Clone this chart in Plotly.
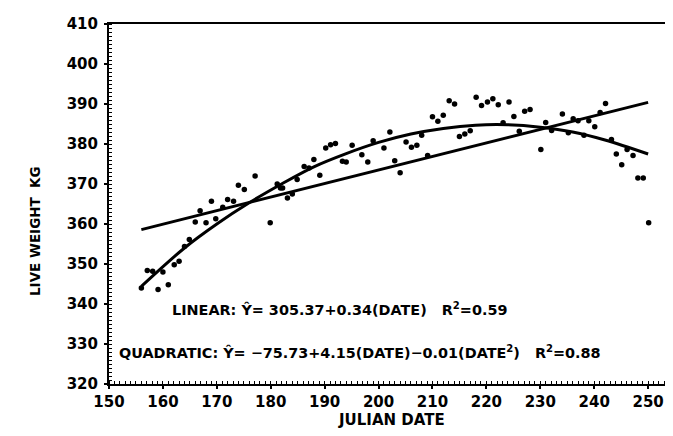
import plotly.graph_objects as go

date = [156.0, 159.1, 161.0, 157.1, 158.1, 160.0, 162.1, 163.0, 164.0, 164.9,
        166.0, 166.9, 168.0, 169.0, 169.8, 171.1, 172.0, 173.1, 174.0, 175.1,
        177.1, 179.9, 181.2, 181.8, 182.2, 183.1, 184.0, 184.9, 186.2, 187.1,
        188.0, 189.1, 190.2, 191.1, 192.0, 193.3, 194.0, 195.1, 196.9, 198.0,
        199.0, 201.0, 202.1, 203.0, 204.0, 205.1, 206.1, 207.1, 208.0, 209.1,
        210.0, 211.0, 212.0, 213.1, 214.1, 215.0, 216.0, 217.0, 218.1, 219.1,
        220.2, 221.2, 222.2, 223.1, 224.2, 225.1, 226.1, 227.1, 228.1, 230.1,
        231.0, 232.1, 234.1, 235.2, 236.1, 237.0, 238.1, 239.0, 240.1, 241.1,
        242.1, 243.2, 244.1, 245.1, 246.1, 247.2, 248.1, 249.1, 250.1]
weight = [344.0, 343.6, 344.8, 348.4, 348.2, 348.0, 349.8, 350.7, 354.4, 356.1,
          360.5, 363.3, 360.3, 365.7, 361.3, 364.2, 366.1, 365.7, 369.7, 368.6,
          372.0, 360.3, 370.0, 369.0, 369.0, 366.5, 367.5, 371.1, 374.4, 374.0,
          376.1, 372.2, 379.0, 379.8, 380.1, 375.7, 375.5, 379.7, 377.3, 375.5,
          380.8, 379.0, 383.0, 375.8, 372.8, 380.5, 379.2, 379.7, 382.2, 377.1,
          386.8, 385.7, 387.2, 390.8, 390.0, 381.9, 382.5, 383.3, 391.7, 389.6,
          390.5, 391.3, 389.8, 385.3, 390.5, 386.9, 383.2, 388.2, 388.6, 378.6,
          385.4, 383.4, 387.5, 382.8, 386.3, 385.8, 382.2, 385.8, 384.3, 387.9,
          390.1, 381.1, 377.5, 374.8, 378.6, 377.1, 371.5, 371.5, 360.3]

# Linear regression line, end values
lin_x = [156, 250]
lin_y = [358.6, 390.4]

# Quadratic regression curve
quad_x = [156, 164, 170, 176, 182, 188, 194, 200, 206, 212, 218, 224, 230, 236, 242, 250]
quad_y = [344.4, 354.0, 360.0, 365.3, 370.0, 374.3, 377.6, 380.4, 382.5, 383.9,
          384.7, 384.8, 384.2, 383.0, 381.0, 377.5]

x_ticks = [150, 160, 170, 180, 190, 200, 210, 220, 230, 240, 250]
y_ticks = [320, 330, 340, 350, 360, 370, 380, 390, 400, 410]

FONT = "DejaVu Sans"

fig = go.Figure()
fig.add_trace(go.Scatter(x=date, y=weight, mode="markers",
                         marker=dict(color="black", size=5.5), showlegend=False))
fig.add_trace(go.Scatter(x=lin_x, y=lin_y, mode="lines",
                         line=dict(color="black", width=3), showlegend=False))
fig.add_trace(go.Scatter(x=quad_x, y=quad_y, mode="lines", line_shape="spline",
                         line=dict(color="black", width=3), showlegend=False))

axis_common = dict(showgrid=False, zeroline=False, showline=True, linecolor="black",
                   linewidth=2, mirror=True, ticks="outside", ticklen=3, tickwidth=2,
                   tickcolor="black",
                   tickfont=dict(family=FONT, size=15, color="black", weight="bold"))

fig.update_xaxes(range=[150, 254.8], tickvals=x_ticks, **axis_common,
                 minor=dict(ticks="inside", ticklen=3, tickwidth=1, dtick=1,
                            tickcolor="black"))
fig.update_yaxes(range=[320, 410], tickvals=y_ticks, ticklabelstandoff=3, **axis_common,
                 minor=dict(ticks="inside", ticklen=3, tickwidth=1, dtick=1,
                            tickcolor="black"))

fig.add_annotation(x=0, y=0.5, xref="paper", yref="paper", xanchor="center",
                   yanchor="middle", textangle=-90, showarrow=False,
                   text="LIVE WEIGHT  KG", xshift=-74, yshift=-27,
                   font=dict(family=FONT, size=13.5, color="black", weight="bold"))
fig.add_annotation(x=0.5, y=0, xref="paper", yref="paper", yanchor="middle",
                   showarrow=False, text="JULIAN DATE", yshift=-36,
                   font=dict(family=FONT, size=15, color="black", weight="bold"))

fig.add_annotation(x=161.3, y=338.8, xref="x", yref="y", xanchor="left", showarrow=False,
                   text="LINEAR: Ŷ= 305.37+0.34(DATE)   R<sup>2</sup>=0.59",
                   font=dict(family=FONT, size=14.4, color="black", weight="bold"))
fig.add_annotation(x=151.5, y=328, xref="x", yref="y", xanchor="left", showarrow=False,
                   text="QUADRATIC: Ŷ= −75.73+4.15(DATE)−0.01(DATE<sup>2</sup>)   R<sup>2</sup>=0.88",
                   font=dict(family=FONT, size=14.4, color="black", weight="bold"))

fig.update_layout(width=673, height=436, margin=dict(l=101, r=5, t=16, b=60),
                  plot_bgcolor="white", paper_bgcolor="white")

fig.write_html("out.html")
